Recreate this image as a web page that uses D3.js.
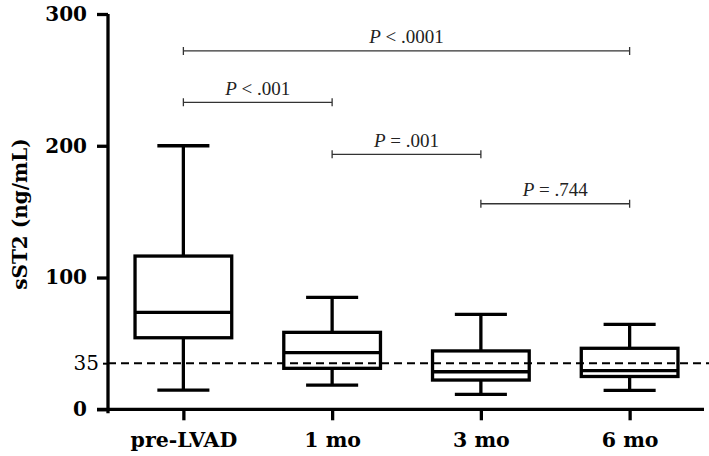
<!DOCTYPE html>
<html>
<head>
<meta charset="utf-8">
<script src="https://cdn.jsdelivr.net/npm/d3@7"></script>
<style>
  body { margin: 0; background: #fff; }
  .tick text { font-family: 'DejaVu Serif', serif; font-weight: bold; fill: #000; }
  .pval { font-family: 'Liberation Serif', 'Times New Roman', serif; font-size: 19px; fill: #222; }
</style>
</head>
<body>
<div class="chart"></div>
<script>
const categories = ['pre-LVAD', '1 mo', '3 mo', '6 mo'];
const whiskerLow = [14.6, 18.4, 11.4, 14.4];
const q1 = [54.3, 31.1, 22.2, 24.9];
const medians = [73.6, 43.0, 28.5, 29.4];
const q3 = [116.3, 58.4, 44.3, 46.3];
const whiskerHigh = [200, 84.9, 72.1, 64.5];
const yTicks = [0, 35, 100, 200, 300];
const refLine = 35;

// significance brackets
const compFrom = ['pre-LVAD', 'pre-LVAD', '1 mo', '3 mo'];
const compTo = ['6 mo', '1 mo', '3 mo', '6 mo'];
const compText = [' < .0001', ' < .001', ' = .001', ' = .744'];
const compLevel = [272, 233, 193.5, 156];

const width = 709;
const height = 456;

const svg = d3.select('.chart')
  .append('svg')
  .attr('width', width)
  .attr('height', height);

const xScale = d3.scalePoint()
  .domain(categories)
  .range([109, 704])
  .padding(0.5);
const yScale = d3.scaleLinear()
  .domain([0, 300])
  .range([409.3, 14]);

const step = xScale.step();
const boxW = step * 0.65;
const capW = step * 0.35;
const lw = 3.3;

// y axis
const yAxis = d3.axisLeft(yScale)
  .tickValues(yTicks)
  .tickSize(11)
  .tickSizeOuter(0)
  .tickPadding(10);
const gy = svg.append('g')
  .attr('transform', 'translate(108,0)')
  .call(yAxis);
gy.select('.domain').remove();
gy.selectAll('.tick line').attr('stroke', '#000').attr('stroke-width', lw);
gy.selectAll('.tick text').style('font-size', '20px');
gy.selectAll('.tick').filter(d => d === refLine).each(function() {
  d3.select(this).select('line').attr('x2', -5).attr('stroke-width', 2);
  d3.select(this).select('text').attr('x', -9).style('font-weight', 'normal');
});
svg.append('line')
  .attr('x1', 108).attr('x2', 108)
  .attr('y1', yScale(300)).attr('y2', yScale(0) + 4)
  .attr('stroke', '#000').attr('stroke-width', lw);

// x axis
const xAxis = d3.axisBottom(xScale)
  .tickSize(11)
  .tickSizeOuter(0)
  .tickPadding(12);
const gx = svg.append('g')
  .attr('transform', 'translate(0,' + yScale(0) + ')')
  .call(xAxis);
gx.select('.domain').attr('stroke', '#000').attr('stroke-width', lw)
  .attr('d', 'M97,0H704');
gx.selectAll('.tick line').attr('stroke', '#000').attr('stroke-width', lw);
gx.selectAll('.tick text').style('font-size', '20.5px');

// y title
svg.append('text')
  .attr('transform', 'rotate(-90)')
  .attr('x', -214)
  .attr('y', 27)
  .attr('text-anchor', 'middle')
  .style('font-family', "'DejaVu Serif', serif")
  .style('font-weight', 'bold')
  .style('font-size', '20px')
  .text('sST2 (ng/mL)');

// boxes
const boxes = svg.append('g').selectAll('g')
  .data(categories)
  .enter()
  .append('g')
  .attr('stroke', '#000')
  .attr('stroke-width', lw)
  .attr('fill', 'none');

boxes.append('line')
  .attr('x1', d => xScale(d)).attr('x2', d => xScale(d))
  .attr('y1', (d, i) => yScale(whiskerHigh[i]))
  .attr('y2', (d, i) => yScale(q3[i]));
boxes.append('line')
  .attr('x1', d => xScale(d)).attr('x2', d => xScale(d))
  .attr('y1', (d, i) => yScale(q1[i]))
  .attr('y2', (d, i) => yScale(whiskerLow[i]));
boxes.append('line')
  .attr('x1', d => xScale(d) - capW / 2).attr('x2', d => xScale(d) + capW / 2)
  .attr('y1', (d, i) => yScale(whiskerHigh[i]))
  .attr('y2', (d, i) => yScale(whiskerHigh[i]));
boxes.append('line')
  .attr('x1', d => xScale(d) - capW / 2).attr('x2', d => xScale(d) + capW / 2)
  .attr('y1', (d, i) => yScale(whiskerLow[i]))
  .attr('y2', (d, i) => yScale(whiskerLow[i]));
boxes.append('rect')
  .attr('x', d => xScale(d) - boxW / 2)
  .attr('width', boxW)
  .attr('y', (d, i) => yScale(q3[i]))
  .attr('height', (d, i) => yScale(q1[i]) - yScale(q3[i]))
  .attr('fill', '#fff');
boxes.append('line')
  .attr('x1', d => xScale(d) - boxW / 2).attr('x2', d => xScale(d) + boxW / 2)
  .attr('y1', (d, i) => yScale(medians[i]))
  .attr('y2', (d, i) => yScale(medians[i]));

// reference line
svg.append('line')
  .attr('x1', 108).attr('x2', width)
  .attr('y1', yScale(refLine)).attr('y2', yScale(refLine))
  .attr('stroke', '#000')
  .attr('stroke-width', 2)
  .attr('stroke-dasharray', '8,5');

// brackets
const brackets = svg.append('g').selectAll('g')
  .data(compText)
  .enter()
  .append('g');
brackets.append('path')
  .attr('d', (d, i) => {
    const x1 = xScale(compFrom[i]);
    const x2 = xScale(compTo[i]);
    const y = yScale(compLevel[i]);
    return 'M' + x1 + ',' + (y - 4) + 'V' + (y + 4) + 'M' + x1 + ',' + y + 'H' + x2 +
      'M' + x2 + ',' + (y - 4) + 'V' + (y + 4);
  })
  .attr('stroke', '#333')
  .attr('stroke-width', 1.3)
  .attr('fill', 'none');
const labels = brackets.append('text')
  .attr('class', 'pval')
  .attr('text-anchor', 'middle')
  .attr('x', (d, i) => (xScale(compFrom[i]) + xScale(compTo[i])) / 2)
  .attr('y', (d, i) => yScale(compLevel[i]) - 7.5);
labels.append('tspan').style('font-style', 'italic').text('P');
labels.append('tspan').text(d => d);
</script>
</body>
</html>
